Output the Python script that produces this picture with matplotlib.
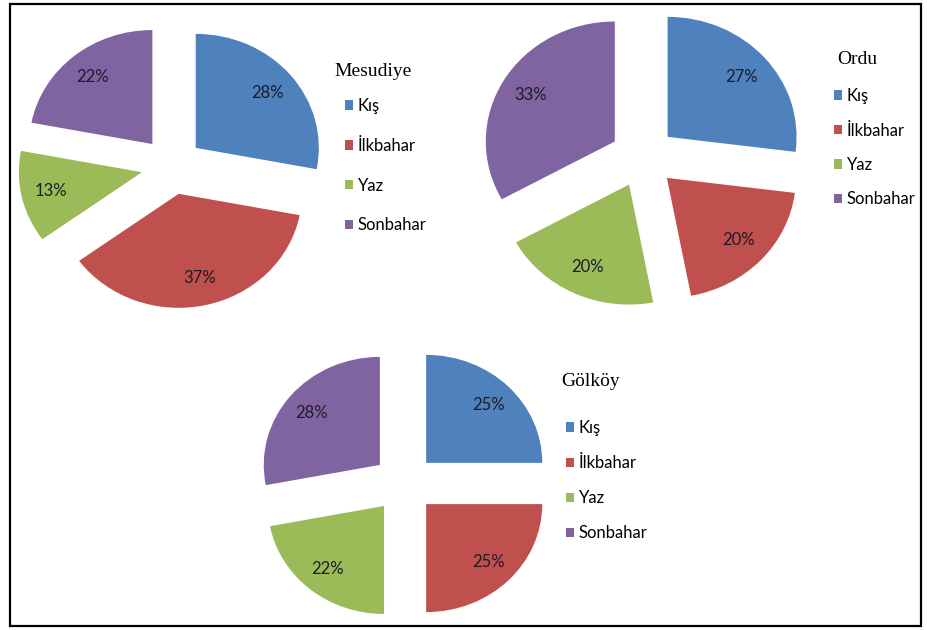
import matplotlib.pyplot as plt
from matplotlib.patches import Rectangle

W, H = 927, 630

seasons = ["Kış", "İlkbahar", "Yaz", "Sonbahar"]
colors = ["#4F81BD", "#C0504D", "#9BBB59", "#8064A2"]

mesudiye = [28, 37, 13, 22]
ordu = [27, 20, 20, 33]
golkoy = [25, 25, 22, 28]

fig = plt.figure(figsize=(W / 100, H / 100), dpi=100)


def fx(px):
    return px / W


def fy(py):
    return 1 - py / H


def draw_pie(values, title, cx, cy, r, explode, title_xy, legend_xy, spacing, stretch=1.075):
    # one full-figure axes per pie, limits chosen so the pie sits at (cx, cy) px
    ax = fig.add_axes([0, 0, 1, 1])
    ax.patch.set_visible(False)
    wedges, _, pcts = ax.pie(values, colors=colors, startangle=90, counterclock=False,
                             explode=[explode] * len(values),
                             autopct=lambda p: f"{p:.0f}%", pctdistance=0.76,
                             textprops=dict(color="#1c1c28", fontsize=12, family="Lato"))
    sx = r * stretch
    ax.set_aspect("auto")
    ax.set_xlim(-cx / sx, (W - cx) / sx)
    ax.set_ylim(-(H - cy) / r, cy / r)
    ax.axis("off")

    fig.text(fx(title_xy[0]), fy(title_xy[1]), title, family="Liberation Serif",
             fontsize=14, va="center", ha="left")
    ax.legend(wedges, seasons, loc="upper left",
              bbox_to_anchor=(fx(legend_xy[0]), fy(legend_xy[1])),
              bbox_transform=fig.transFigure, frameon=False,
              borderpad=0, borderaxespad=0, handlelength=0.5, handleheight=0.5,
              handletextpad=0.25, labelspacing=spacing,
              prop=dict(family="Lato", size=12))


draw_pie(mesudiye, "Mesudiye", 172, 166, 114, 0.25, (334, 72), (345, 98), 1.43, 1.08)
draw_pie(ordu, "Ordu", 643, 157, 120, 0.254, (837, 60), (834, 88), 1.11)
draw_pie(golkoy, "Gölköy", 404, 483.5, 108, 0.27, (561, 381), (566, 420), 1.15)

# outer border
fig.patches.append(Rectangle((fx(10), fy(626)), fx(921) - fx(10), fy(4) - fy(626),
                             transform=fig.transFigure, fill=False,
                             edgecolor="black", linewidth=1.6))

fig.savefig("out.png", dpi=100)
